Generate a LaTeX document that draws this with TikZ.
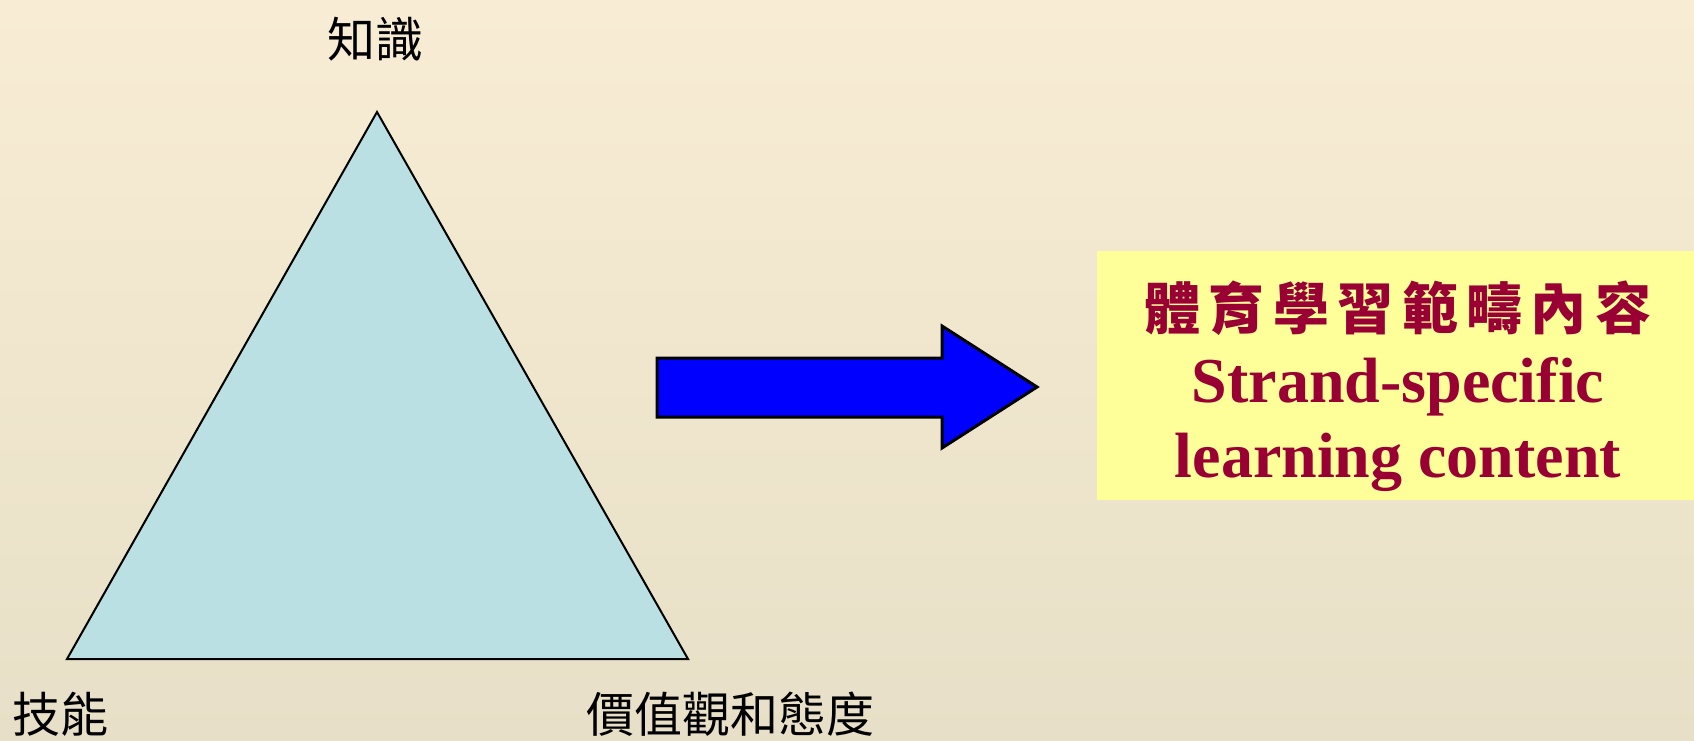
\documentclass[tikz,border=0pt]{standalone}
\usepackage{fontspec}
\setmainfont{Liberation Serif}
\newfontfamily\cjk{Noto Sans CJK TC}
\definecolor{bgtop}{RGB}{248,237,212}
\definecolor{bgbottom}{RGB}{231,223,199}
\definecolor{trifill}{RGB}{187,224,228}
\definecolor{notefill}{RGB}{255,255,153}
\definecolor{strandred}{RGB}{153,0,51}
\tikzset{
  cornertext/.style={inner sep=0pt,font=\cjk\fontsize{24pt}{28pt}\selectfont},
  notetext/.style={inner sep=0pt,text=strandred,font=\bfseries\fontsize{32pt}{38pt}\selectfont},
}
\newcommand{\namecorner}[4]{%
\node[cornertext] (#3) at (#1,#2) {#4};
}

\begin{document}
\begin{tikzpicture}[x=0.5pt,y=-0.5pt]
\useasboundingbox (0,0) rectangle (1694,740);
\shade[top color=bgtop,bottom color=bgbottom] (0,0) rectangle (1694,740);

% triangle
\coordinate (apex) at (377,112);
\coordinate (skillcorner) at (67,659);
\coordinate (valuecorner) at (688,659);
\draw[fill=trifill,line width=1pt] (apex) -- (skillcorner) -- (valuecorner) -- cycle;

\namecorner{375}{39}{knowledge}{知識}
\namecorner{60}{714}{skills}{技能}
\namecorner{730}{714}{values}{價值觀和態度}

% block arrow
\draw[fill=blue,line width=1.5pt] (657,358) -- (942,358) -- (942,326) -- (1037,387)
  -- (942,448) -- (942,417) -- (657,417) -- cycle;

% content box
\fill[notefill] (1097,251) rectangle (1694,500);
\node[notetext,font=\cjk\bfseries\addfontfeature{LetterSpace=15}\fontsize{28pt}{32pt}\selectfont] (strandzh) at (1398,308) {體育學習範疇內容};
\node[notetext,anchor=base] (stranden) at (1398,402) {Strand-specific};
\node[notetext,anchor=base] (contenten) at (1398,477) {learning content};

\end{tikzpicture}
\end{document}
